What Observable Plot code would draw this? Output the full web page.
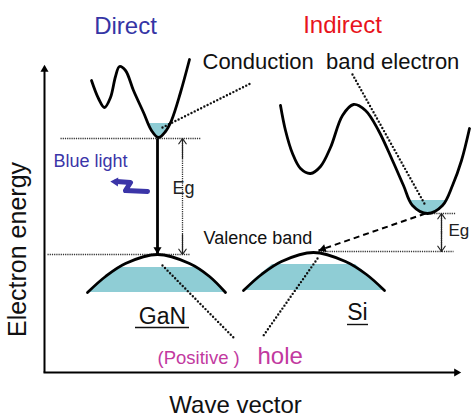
<!DOCTYPE html>
<html><head><meta charset="utf-8">
<script src="https://cdn.jsdelivr.net/npm/d3@7"></script>
<script src="https://cdn.jsdelivr.net/npm/@observablehq/plot@0.6"></script>
<style>html,body{margin:0;padding:0;background:#fff;overflow:hidden}</style>
</head><body><div id="chart"></div>
<script>
// Schematic band diagram. k = wave vector, E = electron energy (picture units, top = high energy)
const ganConduction = [[91,80],[98,98],[104,107],[110,97],[115,76],[119,66],[125,70],[133,90],[143,112],[151,130],[158,137],[165,131],[171,120],[180,92],[189,59]];
const siConduction = [[280,105],[285,130],[292,153],[300,168],[310,173],[320,166],[330,147],[342,115],[353,104],[365,110],[378,130],[392,160],[403,185],[412,205],[427,213],[442,205],[452,185],[461,160],[469,128]];
const ganValence = [[87,292],[105,276],[125,263],[157,254],[189,263],[209,276],[225,292]];
const siValence = [[243,290],[261,274],[281,261],[313,252],[345,261],[366,274],[384,290]];
// electrons at conduction minimum, holes at valence maximum: [k, Etop, Ebottom]
const ganElectrons = [[149,123,123],[153,123,132],[158,123,137],[164,123,132],[170,123,123]];
const siElectrons = [[409,200,200],[414,200,207],[420,200,211],[427,200,213],[434,200,211],[440,200,207],[446,200,200]];
const ganHoles = [[88,292,292],[98,282,292],[117,267,292],[197,267,292],[216,282,292],[225,292,292]];
const siHoles = [[243,290,290],[255,278,290],[272,264,290],[355,264,290],[371,278,290],[384,290,290]];
// band edge levels [k1, k2, E]
const levels = [[60,200,138],[47,190,254],[427,455,213],[318,453,251]];
// band gaps [k, Ec, Ev]
const gaps = [[182,138,254],[441,213,251]];
// transitions [k1,E1,k2,E2]
const directTransition = [[157,138,157,254]];
const indirectTransition = [[425,213,318,250]];
const pointers = [[162,127,252,82],[352,74,425,205],[162,265,233,337],[317,258,263,335]];
const photon = [[147,191],[125,190],[130,182],[116,181]];
const axes = {origin:[44,372], yEnd:[44,64], xEnd:[461,372]};
const centredLabels = [
  {text:"Direct", k:125, E:33, size:24, color:"#3535a5"},
  {text:"Indirect", k:342, E:32, size:24, color:"#e8141c"},
  {text:"GaN", k:162, E:323, size:23, color:"#111"},
  {text:"Si", k:357, E:319, size:23, color:"#111"},
  {text:"Wave vector", k:235, E:412, size:24, color:"#111"}
];
const startLabels = [
  {text:"Conduction  band electron", k:202, E:68, size:22, color:"#111"},
  {text:"Blue light", k:53, E:166, size:18, color:"#3b35a8"},
  {text:"Eg", k:172, E:193, size:18, color:"#222"},
  {text:"Eg", k:448, E:235, size:17, color:"#222"},
  {text:"Valence band", k:203, E:243, size:18, color:"#111"},
  {text:"(Positive )", k:157, E:363, size:18.5, color:"#c2399f"},
  {text:"hole", k:257, E:363, size:24, color:"#c2399f"}
];
const underlines = [[135,189,327],[347,368,324]];

const pts = a => a.map(([k,E]) => ({k,E}));
const band = a => a.map(([k,E1,E2]) => ({k,E1,E2}));
const seg = a => a.map(([k1,E1,k2,E2]) => ({k1,E1,k2,E2}));
const TEAL = "#8fcdd5";
const FONT = "Liberation Sans, Arial, sans-serif";
const ang = (s) => Math.atan2(s[3]-s[1], s[2]-s[0]) * 180 / Math.PI;
const headAt = (s, back) => { const a = Math.atan2(s[3]-s[1], s[2]-s[0]); return {k: s[2]-back*Math.cos(a), E: s[3]-back*Math.sin(a), r: ang(s)+90}; };

const heads = [
  {...headAt(directTransition[0], 5), size:4.5, color:"#000"},
  {...headAt(indirectTransition[0], 5), size:4.5, color:"#000"},
  {...headAt([axes.origin[0],axes.origin[1],axes.yEnd[0],axes.yEnd[1]], 5), size:4.5, color:"#000"},
  {...headAt([axes.origin[0],axes.origin[1],axes.xEnd[0],axes.xEnd[1]], 5), size:4.5, color:"#000"},
  {...headAt([photon[2][0],photon[2][1],photon[3][0]-8,photon[3][1]], 7), size:5.5, color:"#3b35a8"}
];
const gapArrows = gaps.flatMap(([k,Ec,Ev]) => [{k1:k,E1:Ec+20,k2:k,E2:Ec},{k1:k,E1:Ev-20,k2:k,E2:Ev}]);

const chart = Plot.plot({
  width: 471, height: 417,
  marginTop: 0, marginRight: 0, marginBottom: 0, marginLeft: 0,
  x: {domain: [0, 471], range: [0, 471], axis: null},
  y: {domain: [0, 417], range: [0, 417], axis: null},
  style: {background: "#fff", fontFamily: FONT, overflow: "hidden"},
  marks: [
    Plot.areaY(band(ganElectrons), {x:"k", y1:"E1", y2:"E2", fill:TEAL, curve:"catmull-rom"}),
    Plot.areaY(band(siElectrons), {x:"k", y1:"E1", y2:"E2", fill:TEAL, curve:"catmull-rom"}),
    Plot.areaY(band(ganHoles), {x:"k", y1:"E1", y2:"E2", fill:TEAL}),
    Plot.areaY(band(siHoles), {x:"k", y1:"E1", y2:"E2", fill:TEAL}),
    // level lines
    Plot.link(levels.map(([k1,k2,E]) => ({k1,k2,E})), {x1:"k1", x2:"k2", y1:"E", y2:"E", stroke:"#333", strokeWidth:1.6, strokeDasharray:"1.2,1"}),
    Plot.link(gaps.map(([k,Ec,Ev]) => ({k,Ec,Ev})), {x1:"k", x2:"k", y1:"Ec", y2:"Ev", stroke:"#333", strokeWidth:1.3, strokeDasharray:"1.2,1"}),
    Plot.arrow(gapArrows, {x1:"k1", y1:"E1", x2:"k2", y2:"E2", stroke:"#222", strokeWidth:1.2, headLength:8, headAngle:70}),
    // pointer dotted lines
    Plot.link(seg(pointers), {x1:"k1", y1:"E1", x2:"k2", y2:"E2", stroke:"#111", strokeWidth:2.4, strokeDasharray:"0,3.6", strokeLinecap:"round"}),
    // bands
    Plot.line(pts(ganConduction), {x:"k", y:"E", stroke:"#000", strokeWidth:2.8, curve:"catmull-rom"}),
    Plot.line(pts(siConduction), {x:"k", y:"E", stroke:"#000", strokeWidth:2.8, curve:"catmull-rom"}),
    Plot.line(pts(ganValence), {x:"k", y:"E", stroke:"#000", strokeWidth:2.8, curve:"catmull-rom"}),
    Plot.line(pts(siValence), {x:"k", y:"E", stroke:"#000", strokeWidth:2.8, curve:"catmull-rom"}),
    // transitions
    Plot.link(seg(directTransition), {x1:"k1", y1:"E1", x2:"k2", y2:"E2", stroke:"#000", strokeWidth:2.8}),
    Plot.link(seg(indirectTransition), {x1:"k1", y1:"E1", x2:"k2", y2:"E2", stroke:"#000", strokeWidth:2, strokeDasharray:"6,4"}),
    // axes
    Plot.link([{k1:axes.origin[0],E1:axes.origin[1],k2:axes.yEnd[0],E2:axes.yEnd[1]+6},{k1:axes.origin[0]-1,E1:axes.origin[1],k2:axes.xEnd[0]-6,E2:axes.xEnd[1]}], {x1:"k1", y1:"E1", x2:"k2", y2:"E2", stroke:"#000", strokeWidth:2}),
    // photon
    Plot.line(pts(photon), {x:"k", y:"E", stroke:"#3b35a8", strokeWidth:5, strokeLinejoin:"round"}),
    Plot.dot(heads, {x:"k", y:"E", r:"size", rotate:"r", symbol:"triangle", fill:"color", stroke:null}),
    Plot.ruleY(underlines.map(([k1,k2,E]) => ({k1,k2,E})), {x1:"k1", x2:"k2", y:"E", stroke:"#111", strokeWidth:1.4}),
    Plot.text(centredLabels, {x:"k", y:"E", text:"text", fontSize:"size", fill:"color", textAnchor:"middle", lineAnchor:"bottom", fontFamily: FONT}),
    Plot.text(startLabels, {x:"k", y:"E", text:"text", fontSize:"size", fill:"color", textAnchor:"start", lineAnchor:"bottom", fontFamily: FONT}),
    Plot.text([{k:25, E:249, t:"Electron energy"}], {x:"k", y:"E", text:"t", rotate:-90, fontSize:25, fill:"#111", textAnchor:"middle", lineAnchor:"bottom", fontFamily: FONT})
  ]
});
document.getElementById("chart").appendChild(chart);
</script>
</body></html>
